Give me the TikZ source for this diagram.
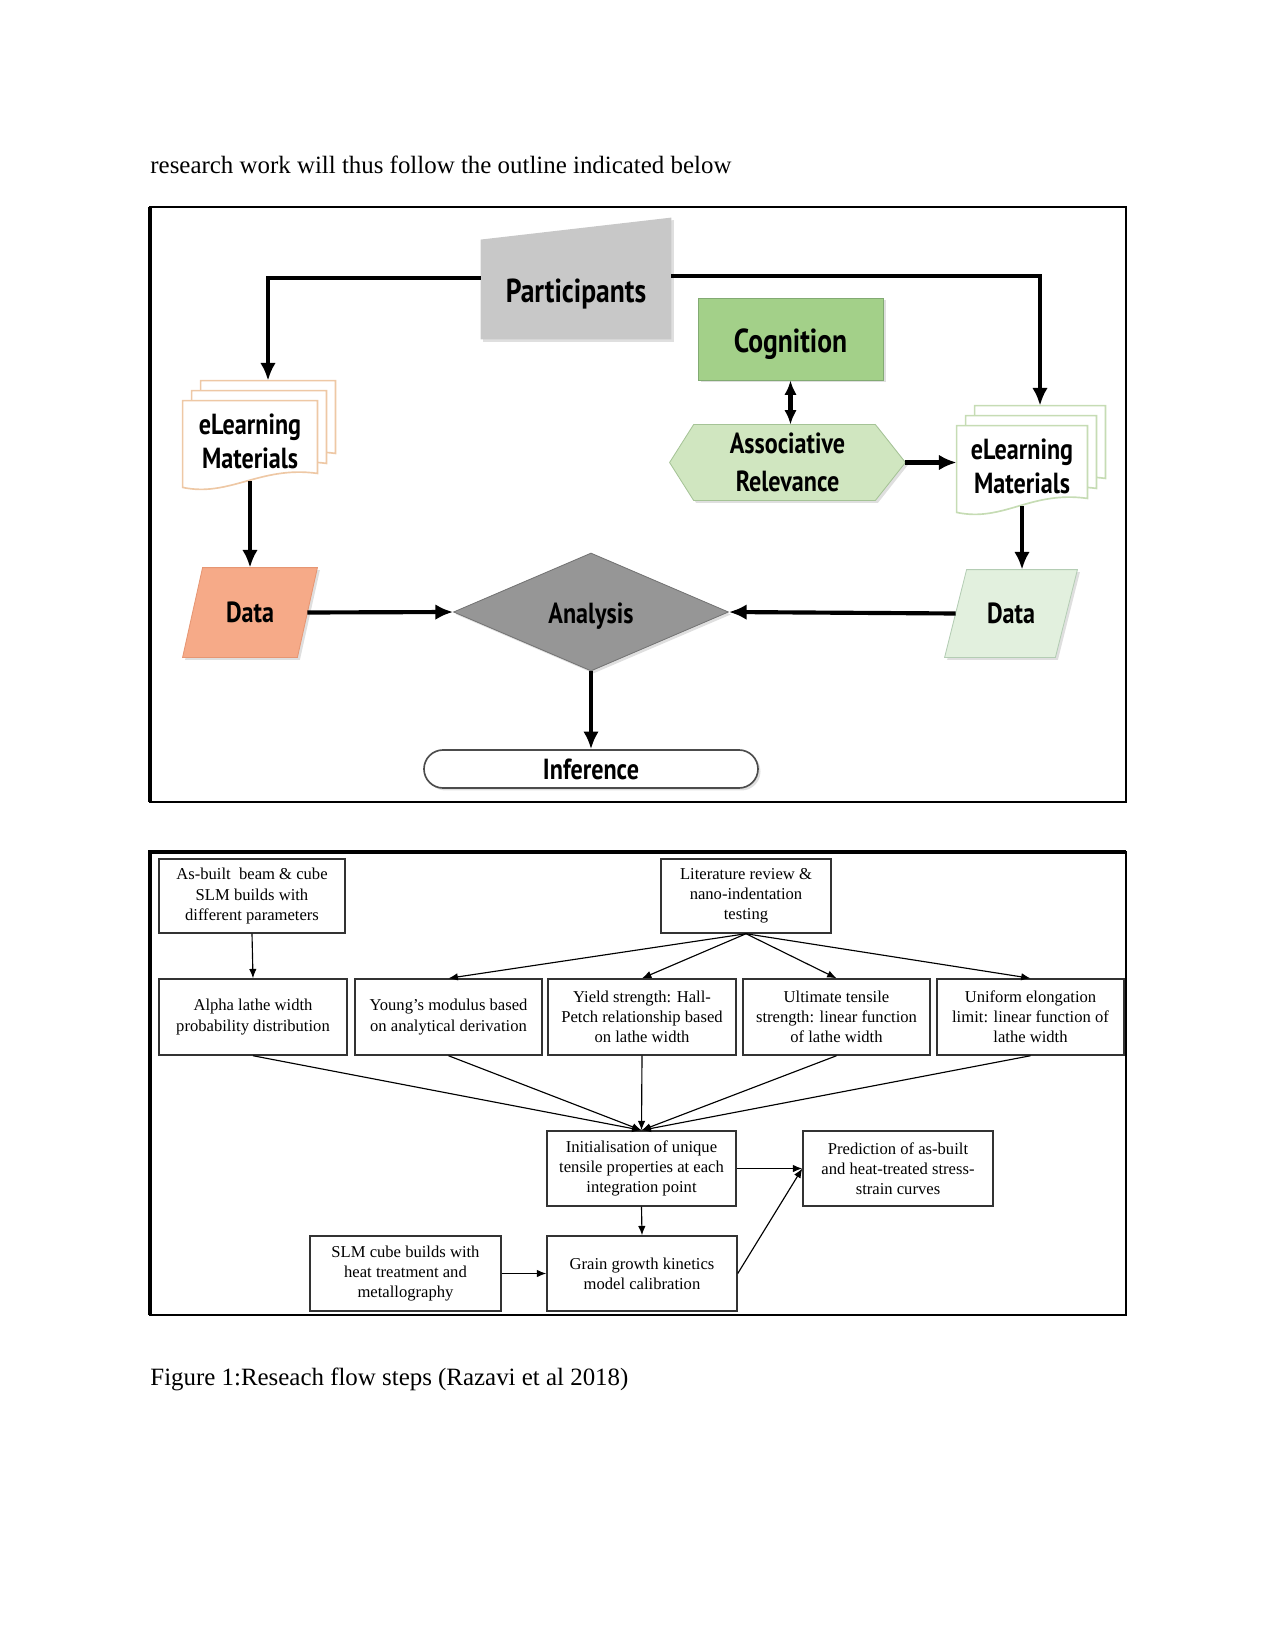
\documentclass[tikz,border=0pt]{standalone}
\usepackage{fontspec}
\setmainfont{Liberation Serif}
\newfontfamily\flowfont[FakeStretch=0.83]{PT Sans}
\usetikzlibrary{arrows.meta,calc,shapes.geometric,shapes.misc,shadows,backgrounds}
\definecolor{partgray}{RGB}{200,200,200}
\definecolor{cogngreen}{RGB}{163,208,137}
\definecolor{cognedge}{RGB}{130,170,115}
\definecolor{assocgreen}{RGB}{208,230,192}
\definecolor{assocedge}{RGB}{165,195,150}
\definecolor{dataorange}{RGB}{246,170,136}
\definecolor{dataedge}{RGB}{230,150,115}
\definecolor{datagreen}{RGB}{226,240,222}
\definecolor{datagedge}{RGB}{180,205,180}
\definecolor{anagray}{RGB}{150,150,150}
\definecolor{pageorange}{RGB}{238,200,165}
\definecolor{pagegreen}{RGB}{198,220,180}
\newcommand{\pxl}{0.4818pt}
\newcommand{\elpage}[4]{%
	\filldraw[draw=#4, fill=white, line width=0.8pt] ($(#1.north west)+(#2,#3)$) -- ($(#1.north east)+(#2,#3)$) -- ($(#1.south east)+(#2,#3-8)$) .. controls ($(#1.south east)+(#2-57,#3-16)$) and ($(#1.south west)+(#2+47,#3+16)$) .. ($(#1.south west)+(#2,#3+6)$) -- cycle;}
\tikzset{
	boxsize/.style 2 args={minimum width=#1*\pxl, minimum height=#2*\pxl},
	flow/.style={font=\flowfont\bfseries\fontsize{14}{16.5}\selectfont, align=center, inner sep=0pt},
	bigflow/.style={flow, font=\flowfont\bfseries\fontsize{16}{18}\selectfont},
	soft/.style={drop shadow={shadow xshift=1.2pt, shadow yshift=-1.2pt, opacity=0.25}},
	bigarrow/.style={line width=2pt, -{Latex[length=8.5pt,width=7.5pt]}},
	stepbox/.style={draw=black!80, line width=0.7pt, align=center, inner sep=1pt, font=\fontsize{8}{9.7}\selectfont},
	link/.style={line width=0.55pt, -{Latex[length=4.5pt,width=3.6pt]}}
}
\begin{document}
\begin{tikzpicture}[x=0.4818pt, y=-0.4818pt]
	\useasboundingbox (0,0) rectangle (1275,1650);
	\node[anchor=base west, inner sep=0pt, font=\fontsize{12}{14}\selectfont] (intro) at (150,174) {research work will thus follow the outline indicated below};
	\node[anchor=base west, inner sep=0pt, font=\fontsize{12}{14}\selectfont] (caption) at (150,1385) {Figure 1:Reseach flow steps (Razavi et al 2018)};

	\draw[line width=0.6pt] (150,207) rectangle (1126,802);
	\draw[line width=1.8pt] (150,207) -- (150,802);

	\node[bigflow, boxsize={190}{90}] (part) at (576,294) {Participants};
	\node[bigflow, boxsize={185}{82}, fill=cogngreen, draw=cognedge, soft] (cog) at (790.5,339) {\raisebox{-2.5pt}[\height][\depth]{Cognition}};
	\node[flow, boxsize={235}{75}] (hex) at (787.5,462.5) {Associative\\[2pt]Relevance};
	\node[flow, boxsize={134}{80}] (el1) at (250,441) {eLearning\\Materials};
	\node[flow, boxsize={130}{80}] (el2) at (1022,466) {eLearning\\Materials};
	\node[flow, boxsize={114}{89}] (dat1) at (250,612.5) {Data};
	\node[flow, boxsize={110}{87}] (dat2) at (1011,613.5) {Data};
	\node[flow, diamond, aspect=2.3, boxsize={275}{118}, fill=anagray, draw=black!55, soft] (ana) at (591,612) {\raisebox{-2pt}[\height][\depth]{Analysis}};
	\node[flow, rounded rectangle, boxsize={334}{38}, fill=white, draw=black!70, line width=0.8pt, soft] (inf) at (591,769) {Inference};
	\coordinate (el1back) at ($(el1.north)+(18,-20)$);
	\coordinate (el2back) at ($(el2.north)+(18,-20)$);

	\begin{scope}[on background layer]
		\fill[partgray, soft] (part.south west) -- ($(part.north west)+(0,-9)$) -- ($(part.north east)+(0,-31)$) -- (part.south east) -- cycle;
		\elpage{el1}{18}{-20}{pageorange}
		\elpage{el1}{9}{-10}{pageorange}
		\elpage{el1}{0}{0}{pageorange}
		\elpage{el2}{18}{-20}{pagegreen}
		\elpage{el2}{9}{-10}{pagegreen}
		\elpage{el2}{0}{0}{pagegreen}
		\filldraw[fill=assocgreen, draw=assocedge, soft] (hex.west) -- ($(hex.north west)+(24,0)$) -- ($(hex.north east)+(-30,0)$) -- (hex.east) -- ($(hex.south east)+(-30,0)$) -- ($(hex.south west)+(24,0)$) -- cycle;
		\filldraw[fill=dataorange, draw=dataedge, soft] ($(dat1.north west)+(10,0)$) -- ($(dat1.north east)+(10,0)$) -- ($(dat1.south east)+(-10,0)$) -- ($(dat1.south west)+(-10,0)$) -- cycle;
		\filldraw[fill=datagreen, draw=datagedge, soft] ($(dat2.north west)+(11,0)$) -- ($(dat2.north east)+(11,0)$) -- ($(dat2.south east)+(-11,0)$) -- ($(dat2.south west)+(-11,0)$) -- cycle;
	\end{scope}

	\draw[bigarrow] ($(part.west)+(0,-16)$) -| (el1back);
	\draw[bigarrow] ($(part.east)+(0,-18)$) -| (el2back);
	\draw[line width=2pt, {Latex[length=7pt,width=6pt]}-{Latex[length=7pt,width=6pt]}] (cog.south) -- (cog.south |- hex.north);
	\draw[bigarrow] (hex.east) -- (hex.east -| el2.west);
	\draw[bigarrow] (el1.south) -- (el1.south |- dat1.north);
	\draw[bigarrow] (el2.south) -- (el2.south |- dat2.north);
	\draw[bigarrow] (dat1.east) -- (ana.west);
	\draw[bigarrow] (dat2.west) -- (ana.east);
	\draw[bigarrow] (ana.south) -- (inf.north);

	\draw[line width=0.8pt] (150,852) rectangle (1126,1315);
	\draw[line width=2pt] (150,1315) -- (150,852) -- (1126,852);

	\node[stepbox, boxsize={186}{74}] (asbuilt) at (252,896) {As-built\ \ beam \& cube\\SLM builds with\\different parameters};
	\node[stepbox, boxsize={170}{74}] (litrev) at (746,896) {Literature review \&\\nano-indentation\\testing};
	\node[stepbox, boxsize={188}{76}] (alpha) at (253,1017) {Alpha lathe width\\probability distribution};
	\node[stepbox, boxsize={187}{76}] (young) at (448.5,1017) {Young’s modulus based\\on analytical derivation};
	\node[stepbox, boxsize={188}{76}] (yield) at (642,1017) {Yield strength: Hall-\\Petch relationship based\\on lathe width};
	\node[stepbox, boxsize={187}{76}] (uts) at (836.5,1017) {Ultimate tensile\\strength: linear function\\of lathe width};
	\node[stepbox, boxsize={187}{76}] (elong) at (1030.5,1017) {Uniform elongation\\limit: linear function of\\lathe width};
	\node[stepbox, boxsize={189}{75}] (init) at (641.5,1168.5) {Initialisation of unique\\tensile properties at each\\integration point};
	\node[stepbox, boxsize={190}{75}] (pred) at (898,1168.5) {Prediction of as-built\\and heat-treated stress-\\strain curves};
	\node[stepbox, boxsize={191}{75}] (slmcube) at (405.5,1273.5) {SLM cube builds with\\heat treatment and\\metallography};
	\node[stepbox, boxsize={190}{75}] (grain) at (642,1273.5) {Grain growth kinetics\\model calibration};

	\draw[link] (asbuilt.south) -- (alpha.north);
	\foreach \t in {young,yield,uts,elong}
		\draw[link] (litrev.south) -- (\t.north);
	\foreach \s in {alpha,young,yield,uts,elong}
		\draw[link] (\s.south) -- (init.north);
	\draw[link] (init.east) -- (pred.west);
	\draw[link] (init.south) -- (grain.north);
	\draw[link] (slmcube.east) -- (grain.west);
	\draw[link] (grain.east) -- (pred.west);
\end{tikzpicture}
\end{document}
